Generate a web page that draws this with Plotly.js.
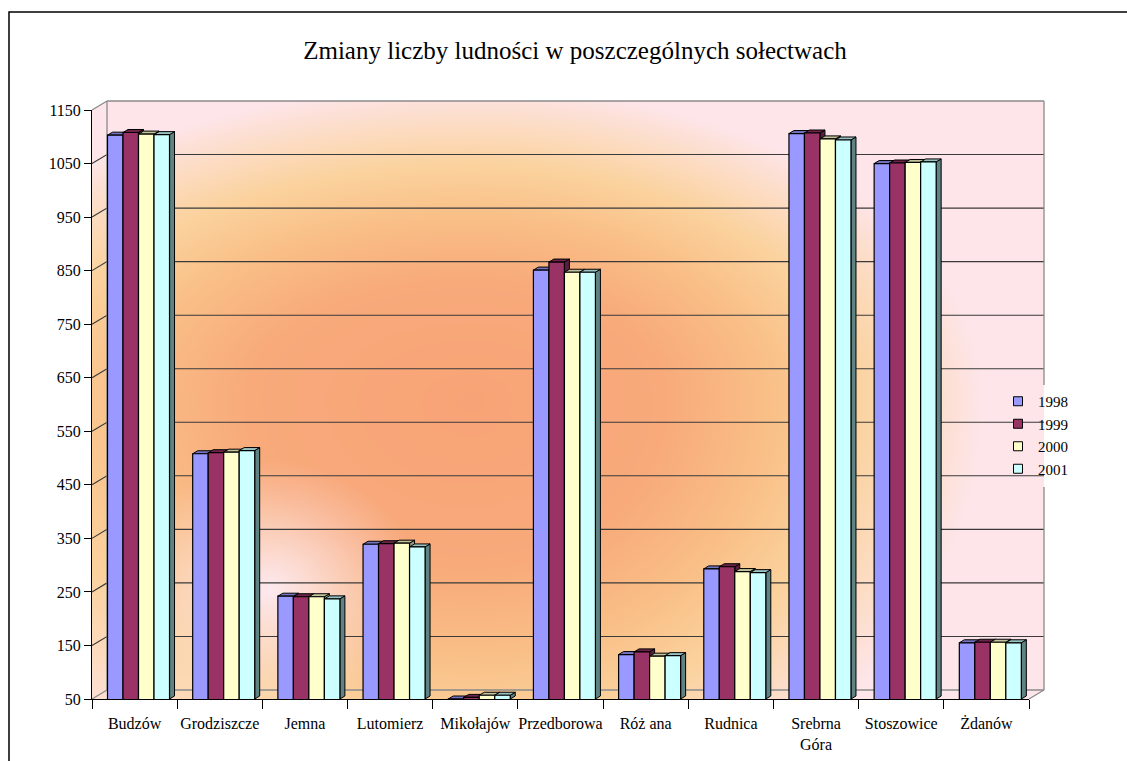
<!DOCTYPE html>
<html>
<head>
<meta charset="utf-8">
<script src="https://cdn.plot.ly/plotly-3.0.1.min.js"></script>
<style>html,body{margin:0;padding:0;background:#fff;}#chart{width:1127px;height:761px;}</style>
</head>
<body>
<div id="chart"></div>
<script>
// ---------- data ----------
const categories = ['Budzów','Grodziszcze','Jemna','Lutomierz','Mikołajów','Przedborowa','Róż ana','Rudnica','Srebrna<br>Góra','Stoszowice','Żdanów'];
const years = ['1998','1999','2000','2001'];
const v1998 = [1103, 508, 242, 339, 50, 851, 133, 293, 1106, 1050, 155];
const v1999 = [1108, 510, 241, 340, 53, 866, 138, 297, 1107, 1051, 156];
const v2000 = [1105, 511, 241, 341, 57, 847, 130, 288, 1096, 1052, 156];
const v2001 = [1104, 514, 237, 334, 57, 847, 131, 286, 1094, 1053, 155];
const yTicks = [50,150,250,350,450,550,650,750,850,950,1050,1150];
const titleText = 'Zmiany liczby ludności w poszczególnych sołectwach';

// ---------- style ----------
const series = [v1998, v1999, v2000, v2001];
const frontCol = ['#9999ff','#993366','#ffffcc','#ccffff'];
const topCol   = ['#7373c0','#6e2449','#c2c29b','#98c2c2'];
const sideCol  = ['#5c5c99','#5a1e3c','#9a9a7a','#5f8282'];
const FONT = 'Liberation Serif, Times New Roman, serif';

const L=92, R=1029, T=110, B=699, W=R-L, H=B-T;
const DX=15, DY=9;              // wall depth in px
const px = X => (X-L)/W, py = Y => (B-Y)/H;
const yMin = 50, yMax = 1150;
const catW = W/categories.length;
const OFF = -0.318, BW = 0.182;       // bar offset/width in category units
const bdx = 5/catW, bdy = 3*(yMax-yMin)/H; // bar depth

// ---------- gradient wall image ----------
function hex(c){return [parseInt(c.substr(1,2),16),parseInt(c.substr(3,2),16),parseInt(c.substr(5,2),16)];}
const stops = [[0,hex('#f8a377')],[0.4,hex('#f8aa7b')],[0.6,hex('#f9be86')],[0.78,hex('#fbd29d')],[0.92,hex('#fcdcc4')],[1.05,hex('#fde5ea')]];
function ramp(r){
  if(r<=stops[0][0]) return stops[0][1];
  for(let k=1;k<stops.length;k++){
    if(r<=stops[k][0]){const a=stops[k-1],b=stops[k];const t=(r-a[0])/(b[0]-a[0]);
      return [a[1][0]+(b[1][0]-a[1][0])*t,a[1][1]+(b[1][1]-a[1][1])*t,a[1][2]+(b[1][2]-a[1][2])*t];}
  }
  return stops[stops.length-1][1];
}
const gx0=L, gy0=T-DY, gx1=R+DX, gy1=B, cw=gx1-gx0, ch=gy1-gy0;
const cv=document.createElement('canvas'); cv.width=cw; cv.height=ch;
const ctx=cv.getContext('2d'); const img=ctx.createImageData(cw,ch);
const spot=hex('#fde9f0');
for(let y=0;y<ch;y++){for(let x=0;x<cw;x++){
  const X=gx0+x+0.5, Y=gy0+y+0.5, i=(y*cw+x)*4;
  if((X<L+DX && Y<T-(X-L)*DY/DX) || (X>R && Y>B-(X-R)*DY/DX)){img.data[i+3]=0;continue;}
  const cx=470, cy=400;
  const dx=(X-cx)/(X<cx?560:490), dy=(Y-cy)/(Y<cy?300:420);
  let c=ramp(Math.sqrt(dx*dx+dy*dy));
  const ds=Math.sqrt(Math.pow((X-270)/150,2)+Math.pow((Y-590)/130,2));
  if(ds<1){const w=Math.pow(1-ds,1.1);c=[c[0]+(spot[0]-c[0])*w,c[1]+(spot[1]-c[1])*w,c[2]+(spot[2]-c[2])*w];}
  img.data[i]=c[0];img.data[i+1]=c[1];img.data[i+2]=c[2];img.data[i+3]=255;
}}
ctx.putImageData(img,0,0);

// ---------- shapes ----------
const shapes=[];
const gray='#8a8a8a';
function pline(x0,y0,x1,y1,col,w){shapes.push({type:'line',xref:'paper',yref:'paper',x0:px(x0),y0:py(y0),x1:px(x1),y1:py(y1),line:{color:col,width:w},layer:'below'});}
// gridlines on back wall + left wall diagonals
yTicks.filter(v=>v>yMin && v<yMax).forEach(v=>{
  shapes.push({type:'path',xref:'paper',yref:'y',xsizemode:'pixel',ysizemode:'pixel',xanchor:0,yanchor:v,
    path:'M0,0 L'+DX+','+DY+' L'+(W+DX)+','+DY, line:{color:'#3a3a3a',width:1.1},layer:'below'});
});
// wall edges
pline(L+DX,T-DY,R+DX,T-DY,gray,1.3);
pline(L,T,L+DX,T-DY,gray,1.3);
pline(L+DX,T-DY,L+DX,B-DY,gray,1.3);
pline(R+DX,T-DY,R+DX,385,gray,1.3);
pline(R+DX,487,R+DX,B-DY,gray,1.3);
pline(L,B,L+DX,B-DY,gray,1.3);
pline(L+DX,B-DY,R+DX,B-DY,gray,1.3);
pline(R,B,R+DX,B-DY,gray,1.3);
// bar top & side faces
categories.forEach((c,i)=>{
  series.forEach((arr,j)=>{
    const v=Math.max(arr[i],yMin);
    const xl=i+OFF+j*BW, xr=xl+BW;
    shapes.push({type:'path',xref:'x',yref:'y',layer:'below',fillcolor:sideCol[j],line:{color:'#000',width:1},
      path:`M${xr},${v} L${xr+bdx},${v+bdy} L${xr+bdx},${yMin+bdy} L${xr},${yMin} Z`});
    shapes.push({type:'path',xref:'x',yref:'y',layer:'below',fillcolor:topCol[j],line:{color:'#000',width:1},
      path:`M${xl},${v} L${xr},${v} L${xr+bdx},${v+bdy} L${xl+bdx},${v+bdy} Z`});
  });
});
// outer border
shapes.push({type:'rect',xref:'paper',yref:'paper',x0:px(9),y0:py(775),x1:px(1145),y1:py(12),line:{color:'#000',width:1.5},fillcolor:'rgba(0,0,0,0)',layer:'above'});

// ---------- traces ----------
const traces=[];
series.forEach((arr,j)=>{
  traces.push({type:'bar',x:categories,y:arr,name:years[j],showlegend:false,offset:OFF+j*BW,width:BW,
    marker:{color:frontCol[j],line:{color:'#000',width:1.2}},hoverinfo:'x+y+name'});
});
series.forEach((arr,j)=>{
  traces.push({type:'scatter',mode:'markers',x:[null],y:[null],name:years[j],legendgroup:years[j],showlegend:true,
    marker:{symbol:'square',size:9,color:frontCol[j],line:{color:'#000',width:1}}});
});

const layout={
  width:1127,height:761,
  margin:{l:L,r:1127-R,t:T,b:761-B,pad:0},
  paper_bgcolor:'#ffffff',plot_bgcolor:'rgba(0,0,0,0)',
  barmode:'overlay',
  font:{family:FONT,color:'#000',size:16},
  title:{text:titleText,font:{family:FONT,size:25,color:'#000'},xref:'container',yref:'container',x:575/1127,y:1-50/761,xanchor:'center',yanchor:'middle'},
  xaxis:{type:'category',categoryorder:'array',categoryarray:categories,range:[-0.5,categories.length-0.5],tickangle:0,
    showline:true,linecolor:'#000',linewidth:1,ticks:'outside',tickson:'boundaries',ticklen:9,tickcolor:'#000',tickwidth:1,
    showgrid:false,zeroline:false,tickfont:{family:FONT,size:16,color:'#000'},ticklabelstandoff:10,fixedrange:true},
  yaxis:{range:[yMin,yMax],tickmode:'array',tickvals:yTicks,ticktext:yTicks.map(String),
    showline:true,linecolor:'#000',linewidth:1,ticks:'outside',ticklen:7,tickcolor:'#000',tickwidth:1,
    showgrid:false,zeroline:false,tickfont:{family:FONT,size:16,color:'#000'},fixedrange:true},
  legend:{x:px(998),y:py(385),xanchor:'left',yanchor:'top',bgcolor:'rgba(0,0,0,0)',borderwidth:0,
    font:{family:FONT,size:15,color:'#000'},tracegroupgap:0,itemwidth:30},
  images:[{source:cv.toDataURL('image/png'),xref:'paper',yref:'paper',x:px(gx0),y:py(gy0),sizex:cw/W,sizey:ch/H,
    xanchor:'left',yanchor:'top',sizing:'stretch',layer:'below'}],
  shapes:shapes,
  showlegend:true
};
Plotly.newPlot('chart',traces,layout,{displayModeBar:false,staticPlot:true});
</script>
</body>
</html>
